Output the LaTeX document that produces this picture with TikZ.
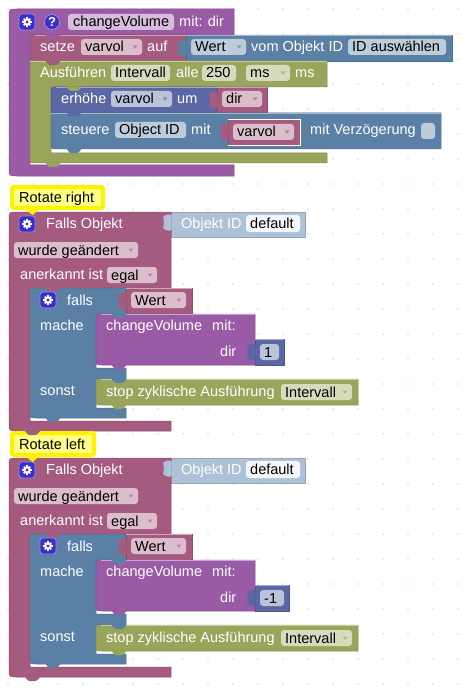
\documentclass[tikz,border=0pt]{standalone}
\usepackage{fontspec}
\setmainfont{Liberation Sans}
\definecolor{cproc}{HTML}{995BA5}
\definecolor{cvar}{HTML}{A55B80}
\definecolor{clog}{HTML}{5B80A5}
\definecolor{cmath}{HTML}{5B67A5}
\definecolor{ctim}{HTML}{99A55B}
\definecolor{cshadow}{HTML}{ADC2D6}
\definecolor{cicon}{HTML}{3A2FC8}
\definecolor{cdot}{HTML}{DADADA}
\definecolor{ccomm}{HTML}{FFFF88}
\tikzset{
  blockf/.style={fill=#1,draw=#1!85!black,line width=.5pt},
  wtext/.style={text=white,font=\fontsize{14.5}{14.5}\selectfont,inner sep=0pt,anchor=base west},
  ftext/.style={text=black,font=\fontsize{14.5}{14.5}\selectfont,inner sep=0pt,anchor=base west},
  fieldbox/.style={rounded corners=3pt,draw=none}
}
\newcount\nid
% white label: x, centre y, text
\newcommand\wlab[3]{\global\advance\nid by 1 \node[wtext] (n\the\nid) at ({#1},{#2+5}) {#3};}
% field: colour, x1, x2, cy, text
\newcommand\fld[5]{\fill[#1!40!white,fieldbox] ({#2},{#4-8}) rectangle ({#3},{#4+8});
  \global\advance\nid by 1 \node[ftext] (n\the\nid) at ({#2+4},{#4+5}) {#5};}
% dropdown field
\newcommand\dfld[5]{\fld{#1}{#2}{#3}{#4}{#5}
  \fill[#1!75!white] ({#3-9.5},{#4-1.5}) -- ({#3-4.5},{#4-1.5}) -- ({#3-7},{#4+1.8}) -- cycle;}
% block: colour,x1,y1,x2,y2,rTL,rBL
\newcommand\sblk[7]{\filldraw[blockf=#1] ({#4},{#3}) -- ({#2+#6},{#3}) .. controls ({#2},{#3}) .. ({#2},{#3+#6})
  -- ({#2},{#5-#7}) .. controls ({#2},{#5}) .. ({#2+#7},{#5}) -- ({#4},{#5}) -- cycle;
  \draw[#1!55!white,line width=.5pt] ({#2+#6},{#3+.4}) -- ({#4},{#3+.4});}
% statement tab
\newcommand\tabd[3]{\fill[#1,rounded corners=1pt] ({#2},{#3-.5}) -- ({#2+4},{#3+4}) -- ({#2+12},{#3+4}) -- ({#2+16},{#3-.5}) -- cycle;}
% value tab: colour, x, y top of block
\newcommand\tabl[3]{\fill[#1,rounded corners=1pt] ({#2+.5},{#3+5}) -- ({#2-4},{#3+5}) -- ({#2-8},{#3+7}) -- ({#2-7},{#3+13}) -- ({#2-8},{#3+19}) -- ({#2-4},{#3+21}) -- ({#2+.5},{#3+21}) -- cycle;}
% gear icon: centre
\newcommand\gear[2]{\filldraw[fill=cicon,draw=cicon!55!white,line width=.8pt,rounded corners=3pt] ({#1-8},{#2-8}) rectangle ({#1+8},{#2+8});
  \foreach \a in {0,45,...,315}{\draw[white,line width=1.5pt] ({#1+2.5*cos(\a)},{#2+2.5*sin(\a)}) -- ({#1+4.6*cos(\a)},{#2+4.6*sin(\a)});}
  \fill[white] ({#1},{#2}) circle[radius=3.8pt];
  \fill[cicon] ({#1},{#2}) circle[radius=1.7pt];}
% comment
\newcommand\comm[4]{\fill[yellow] (25,{#3-1}) -- (40,{#3-1}) -- (32.5,{#3+5}) -- cycle;
  \filldraw[fill=ccomm,draw=yellow,line width=4pt,rounded corners=2pt] (12,{#2+2}) rectangle ({#1-2},{#3-2});
  \global\advance\nid by 1 \node[ftext] (n\the\nid) at (19,{(#2+#3)/2+5}) {#4};}
% rule body
\newcommand\rulebody[2]{%
  \filldraw[blockf=cshadow] (171,212) -- (171,237) -- (305,237) -- (305,212) -- cycle;
  \wlab{181}{223}{Objekt ID}
  \fill[white!88!cshadow,fieldbox] (246,215) rectangle (300,232);
  \global\advance\nid by 1 \node[ftext] (n\the\nid) at (250,228) {default};
  \filldraw[blockf=cvar] (171,212) -- (17,212) .. controls (9,212) .. (9,220) -- (9,423) .. controls (9,431) .. (17,431)
     -- (171,431) -- (171,421) -- (30,421) -- (30,288) -- (171,288) -- cycle;
  \tabl{cshadow}{171}{209.5}
  \gear{27}{224}
  \wlab{46}{223}{Falls Objekt}
  \dfld{cvar}{14}{138}{250}{wurde geändert}
  \wlab{20}{274}{anerkannt ist}
  \dfld{cvar}{107}{157}{275}{egal}
  % if block
  \filldraw[blockf=clog] (126,288) -- (36,288) .. controls (30,288) .. (30,294) -- (30,412) .. controls (30,418) .. (36,418)
     -- (126,418) -- (126,408) -- (96,408) -- (96,379) -- (126,379) -- (126,368) -- (96,368) -- (96,314) -- (126,314) -- cycle;
  \tabd{cvar}{45}{288}
  \gear{48}{300}
  \wlab{67}{300}{falls}
  \sblk{cvar}{126}{288}{192}{314}{0}{0}
  \tabl{cvar}{126}{288}
  \dfld{cvar}{131}{186}{300}{Wert}
  \wlab{40}{325}{mache}
  \sblk{cproc}{96}{314}{255}{365}{5}{6}
  \tabd{clog}{111}{314}
  \wlab{106}{325}{changeVolume}
  \wlab{212}{325}{mit:}
  \wlab{220}{351}{dir}
  \sblk{cmath}{255}{339}{#2}{365}{0}{0}
  \tabl{cmath}{255}{339}
  \fld{cmath}{260}{{#2-5}}{352}{#1}
  \tabd{cproc}{111}{365}
  \wlab{40}{390}{sonst}
  \sblk{ctim}{96}{379}{358}{405}{5}{6}
  \tabd{clog}{111}{379}
  \wlab{106}{391}{stop zyklische Ausführung}
  \dfld{ctim}{281}{352}{392}{Intervall}
  \tabd{ctim}{111}{405}
  \tabd{clog}{45}{418}
}
\begin{document}
\begin{tikzpicture}[x=1pt,y=-1pt]
\useasboundingbox (0,0) rectangle (468,695);
\fill[white] (0,0) rectangle (468,695);
\foreach \gx in {8,33,...,458}{\foreach \gy in {9,34,...,684}{\fill[cdot] (\gx,\gy) circle[radius=.9pt];}}
% procedure block
\filldraw[blockf=cproc] (234,9) -- (17,9) .. controls (9,9) .. (9,17) -- (9,168) .. controls (9,176) .. (17,176)
  -- (234,176) -- (234,165) -- (30,165) -- (30,35) -- (234,35) -- cycle;
\gear{27}{22}
\filldraw[fill=cicon,draw=cicon!55!white,line width=.8pt] (52,22) circle[radius=7.5pt];
\node[text=white,font=\fontsize{13}{13}\selectfont\bfseries,inner sep=0pt] (help) at (52,22) {?};
\fill[cproc!40!white,fieldbox] (68,14) rectangle (174,30);
\node[ftext] (procname) at (73,27) {changeVolume};
\wlab{179}{22}{mit: dir}
% setze
\sblk{cvar}{30}{35}{186}{61}{5}{0}
\tabd{cproc}{45}{35}
\wlab{40}{47}{setze}
\dfld{cvar}{81}{142}{47}{varvol}
\wlab{147}{47}{auf}
\sblk{clog}{186}{35}{452}{61}{0}{0}
\tabl{clog}{186}{35}
\dfld{clog}{191}{246}{47}{Wert}
\wlab{251}{47}{vom Objekt ID}
\fld{clog}{348}{446}{47}{ID auswählen}
% Ausfuehren
\filldraw[blockf=ctim] (327,61) -- (30,61) -- (30,157) .. controls (30,163) .. (36,163) -- (327,163) -- (327,153)
  -- (51,153) -- (51,87) -- (327,87) -- cycle;
\draw[ctim!55!white,line width=.5pt] (30,61.4) -- (327,61.4);
\tabd{cvar}{45}{61}
\wlab{40}{73}{Ausführen}
\fld{ctim}{111}{170}{73}{Intervall}
\wlab{176}{73}{alle}
\fld{ctim}{202}{236}{73}{250}
\dfld{ctim}{246}{290}{73}{ms}
\wlab{295}{73}{ms}
% erhoehe
\sblk{cmath}{51}{87}{217}{113}{5}{0}
\tabd{ctim}{66}{87}
\wlab{61}{99}{erhöhe}
\dfld{cmath}{111}{172}{99}{varvol}
\wlab{177}{99}{um}
\sblk{cvar}{217}{87}{267}{113}{0}{0}
\tabl{cvar}{217}{87}
\dfld{cvar}{222}{262}{99}{dir}
% steuere
\sblk{clog}{51}{113}{441}{149}{0}{6}
\tabd{cmath}{66}{112.5}
\wlab{61}{130}{steuere}
\fld{clog}{115}{186}{130}{Object ID}
\wlab{191}{130}{mit}
\filldraw[fill=cvar,draw=cvar!85!black,line width=.5pt] (228,119) rectangle (300,145);
\draw[white,line width=.5pt] (228,119) -- (300,119) -- (300,145) -- (228,145);
\tabl{cvar}{228}{119}
\dfld{cvar}{233}{294}{132}{varvol}
\wlab{310}{130}{mit Verzögerung}
\fill[clog!40!white,rounded corners=3pt] (421,123) rectangle (435,139);
\tabd{clog}{66}{149}
\tabd{ctim}{45}{163}
% rule blocks
\rulebody{1}{284}
\begin{scope}[shift={(0,246)}]
\rulebody{-1}{289}
\end{scope}
% comments
\comm{105}{185}{210}{Rotate right}
\comm{96}{431}{457}{Rotate left}
\tabd{cvar}{24.5}{431}
\tabd{cvar}{24.5}{677}
\end{tikzpicture}
\end{document}
